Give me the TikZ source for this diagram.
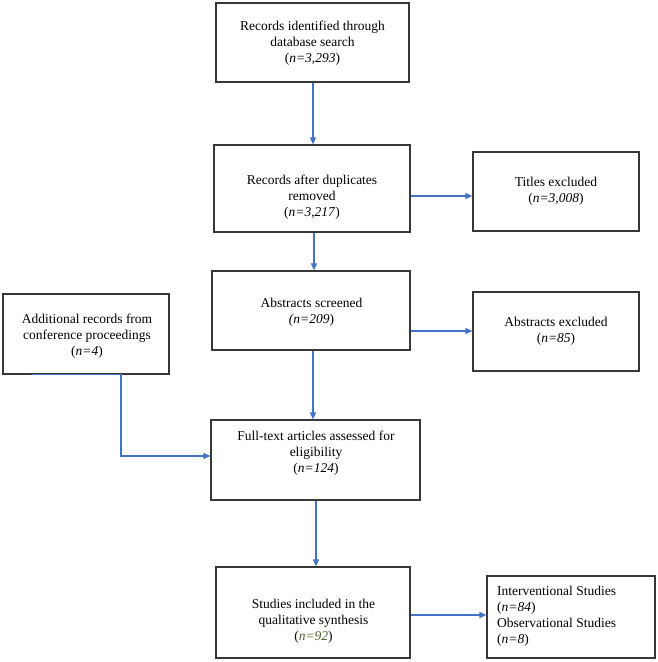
\documentclass[tikz,border=0pt]{standalone}
\usepackage{fontspec}
\setmainfont{Liberation Serif}
\newfontfamily\boxfont{Liberation Serif}
\usetikzlibrary{arrows.meta}
\definecolor{lineblue}{RGB}{68,114,196}
\definecolor{boxgray}{RGB}{55,55,55}
\definecolor{olivegreen}{RGB}{79,98,40}
\begin{document}
\begin{tikzpicture}[x=1pt,y=-1pt,
  box/.style={draw=boxgray,line width=1.2pt,inner sep=0pt},
  txt/.style={align=center,font=\boxfont\fontsize{13.5}{16}\selectfont,inner sep=0pt},
  arr/.style={draw=lineblue,line width=1.2pt,-{Triangle[length=7pt,width=6pt]}}]
\useasboundingbox (0,0) rectangle (657,662);
% boxes
\node[box,minimum width=193pt,minimum height=79pt] (b1) at (312.5,42.5) {};
\node[box,minimum width=196pt,minimum height=87pt] (b2) at (312,188.5) {};
\node[box,minimum width=166pt,minimum height=79pt] (titles) at (556,191.5) {};
\node[box,minimum width=198pt,minimum height=79pt] (b3) at (311,310.5) {};
\node[box,minimum width=166pt,minimum height=79pt] (excl) at (556,331.5) {};
\node[box,minimum width=166pt,minimum height=80pt] (add) at (86,334) {};
\node[box,minimum width=209pt,minimum height=80pt] (b4) at (315.5,460) {};
\node[box,minimum width=194pt,minimum height=91pt] (b5) at (313,612.5) {};
\node[box,minimum width=168pt,minimum height=82pt] (final) at (571,617) {};
% texts
\node[txt] (t1) at (312.5,43) {Records identified through\\database search\\(\textit{n=3,293})};
\node[txt] (t2) at (312,197) {Records after duplicates\\removed\\(\textit{n=3,217})};
\node[txt] (t3) at (556,191.5) {Titles excluded\\(\textit{n=3,008})};
\node[txt] (t4) at (311.5,312) {Abstracts screened\\\textit{(n=209})};
\node[txt] (t5) at (556,331.5) {Abstracts excluded\\(\textit{n=85})};
\node[txt] (t6) at (87,336) {Additional records from\\conference proceedings\\(\textit{n=4})};
\node[txt] (t7) at (316,453) {Full-text articles assessed for\\eligibility\\(\textit{n=124})};
\node[txt] (t8) at (313.5,621) {Studies included in the\\qualitative synthesis\\(\textcolor{olivegreen}{\textit{n=92}})};
\node[txt,align=left,anchor=west] (t9) at (497,616) {Interventional Studies\\(\textit{n=84})\\Observational Studies\\(\textit{n=8})};
% connectors
\draw[arr] (b1.south -| 313,0) -- (b2.north -| 313,0);
\draw[arr] (b2.east |- 0,196) -- (titles.west |- 0,196);
\draw[arr] (b2.south -| 314,0) -- (b3.north -| 314,0);
\draw[arr] (b3.east |- 0,331) -- (excl.west |- 0,331);
\draw[arr] (b3.south -| 313,0) -- (b4.north -| 313,0);
\draw[arr] (add.south -| 32,0) -- (add.south -| 121,0) |- (b4.west |- 0,456);
\draw[arr] (b4.south -| 316,0) -- (b5.north -| 316,0);
\draw[arr] (b5.east |- 0,615) -- (final.west |- 0,615);
\end{tikzpicture}
\end{document}
